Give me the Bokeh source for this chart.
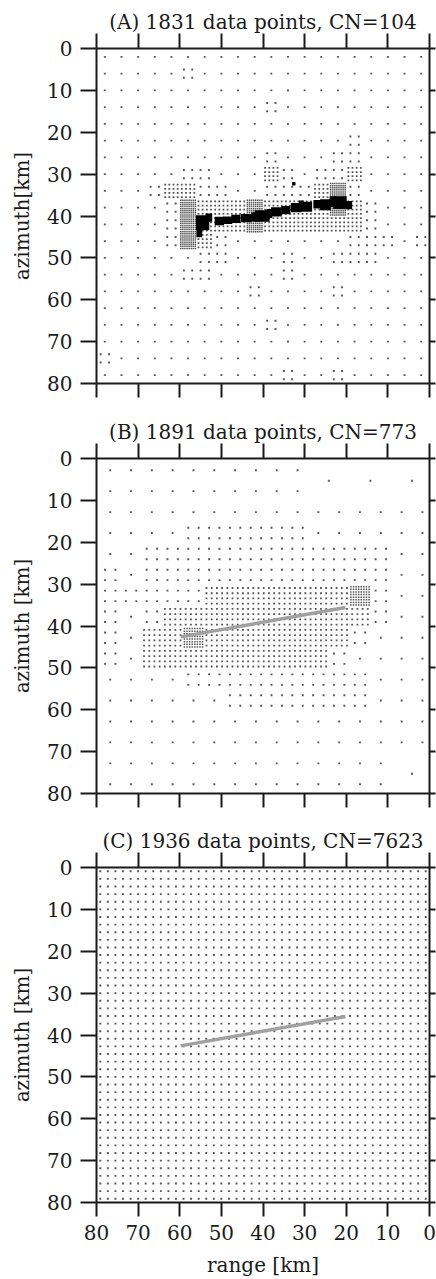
from bokeh.plotting import figure
from bokeh.models import Range1d, LinearAxis, FixedTicker, ColumnDataSource
from bokeh.layouts import column
from bokeh.embed import file_html
from bokeh.resources import INLINE

# ---------------- texts ----------------
titles = ["(A) 1831 data points, CN=104",
          "(B) 1891 data points, CN=773",
          "(C) 1936 data points, CN=7623"]
ylabels = ["azimuth[km]", "azimuth [km]", "azimuth [km]"]
xlabel = "range [km]"
tick_values = [0, 10, 20, 30, 40, 50, 60, 70, 80]

# ---------------- panel A: quadtree levels on a 4 km grid ----------------
# rows: azimuth 0 -> 80 km, columns: range 80 -> 0 km
# 0 = one point, 1 = 2 km cells, 2 = 1 km cells, 3 = 0.5 km cells
A_cell_km = 4.0
A_levels = [
    "00000000000000000000",
    "00000100000000000000",
    "00000000000000000000",
    "00000000001000000000",
    "00000000000000000000",
    "00000000000000010000",
    "00000000001000110000",
    "00000110002101120000",
    "00012211001112310000",
    "00001322232222321000",
    "00001322232222221000",
    "00001321000000011101",
    "00000011000100111000",
    "00000110000100000000",
    "00000000010000100000",
    "00000000000000000000",
    "00000000001000000000",
    "00000000000000000000",
    "10000000000000000000",
    "00000000000100100000",
]
# finest (black) patches along the fault in panel A: centre range, centre azimuth, extents (km)
A_patch_range = [54.5, 55.3, 53.0, 50.5, 48.5, 46.5, 44.0, 40.2, 36.8, 34.5, 32.0,
                 29.5, 27.0, 25.0, 21.5, 19.5, 32.6, 42.0, 38.5, 30.8, 23.2]
A_patch_az = [41.6, 43.9, 40.4, 41.2, 41.0, 40.7, 40.5, 40.0, 39.0, 38.6, 38.0,
              37.8, 37.2, 37.3, 36.8, 37.4, 32.3, 40.2, 39.4, 37.5, 36.6]
A_patch_w = [3.2, 1.4, 1.6, 2.2, 2.2, 2.2, 2.6, 3.6, 2.6, 2.2, 2.6,
             2.6, 1.8, 2.6, 3.2, 1.8, 0.8, 1.6, 1.4, 1.2, 1.6]
A_patch_h = [3.6, 2.4, 2.0, 2.0, 1.8, 2.0, 2.0, 2.8, 2.2, 2.0, 2.2,
             2.4, 2.0, 2.6, 3.0, 2.0, 0.8, 2.2, 2.2, 2.4, 2.6]

# ---------------- panel B: levels on a 5 km grid ('X' = part of a 10 km cell) ----------------
B_cell_km = 5.0
B_shift_range = -0.8
B_shift_az = 0.3
B_levels = [
    "0000000000XXXXXX",
    "0000000000XXXXXX",
    "0000000000000000",
    "0000111111000000",
    "0011111111111100",
    "1011111111111100",
    "1111122222223100",
    "1012222222222100",
    "1022322222221000",
    "1022222222210000",
    "0000111111111000",
    "0000001111111000",
    "0000000000000000",
    "0000000000000000",
    "00000000000000XX",
    "00000000000000XX",
]

# ---------------- panel C: uniform grid ----------------
C_n_range = 44
C_n_az = 44

# ---------------- fault trace (panels B, C) ----------------
fault_range = [59.8, 20.2]
fault_az = [42.6, 35.6]


def quadtree_points(levels, cell, r_shift=0.0, a_shift=0.0):
    xs, ys, lv = [], [], []
    for j, row in enumerate(levels):
        for i, ch in enumerate(row):
            if ch == "X":
                if i % 2 == 0 and j % 2 == 0:
                    xs.append(80 - cell * (i + 1) + r_shift)
                    ys.append(cell * (j + 1) + a_shift)
                    lv.append(0)
                continue
            L = int(ch)
            n = 2 ** L
            s = cell / n
            for a in range(n):
                for b in range(n):
                    xs.append(80 - cell * i - (a + 0.5) * s + r_shift)
                    ys.append(cell * j + (b + 0.5) * s + a_shift)
                    lv.append(L)
    return xs, ys, lv


FONT = "DejaVu Serif"
INK = "#1a1a1a"
DOT = "#555555"
DOT_SIZE = {0: 1.9, 1: 1.9, 2: 1.8, 3: 1.5}


def style_axis(ax, tick_out, labels):
    ax.ticker = FixedTicker(ticks=tick_values, minor_ticks=[])
    ax.axis_line_width = 2
    ax.axis_line_color = INK
    ax.major_tick_line_width = 2
    ax.major_tick_line_color = INK
    ax.major_tick_out = tick_out
    ax.major_tick_in = 0
    ax.minor_tick_out = 0
    ax.minor_tick_in = 0
    if labels:
        ax.major_label_text_font = FONT
        ax.major_label_text_font_size = "20px"
        ax.major_label_text_color = INK
        ax.major_label_standoff = 8
    else:
        ax.major_label_text_font_size = "1px"
        ax.major_label_text_alpha = 0
        ax.major_label_text_color = None
        ax.major_label_standoff = 0


def make_fig(idx, top, bottom, xlabels):
    p = figure(frame_width=333, frame_height=335,
               x_range=Range1d(80, 0), y_range=Range1d(80, 0),
               output_backend="svg", toolbar_location=None,
               min_border_left=96, min_border_right=7,
               min_border_top=top, min_border_bottom=bottom,
               x_axis_location=None, y_axis_location=None,
               title=titles[idx])
    p.title.align = "center"
    p.title.text_font = FONT
    p.title.text_font_size = "20px"
    p.title.text_font_style = "normal"
    p.title.text_color = INK
    p.title.standoff = 0
    p.grid.visible = False
    p.outline_line_color = None
    p.background_fill_color = "white"
    p.border_fill_color = "white"

    left = LinearAxis(axis_label=ylabels[idx])
    style_axis(left, 16, True)
    left.axis_label_text_font = FONT
    left.axis_label_text_font_size = "20px"
    left.axis_label_text_font_style = "normal"
    left.axis_label_text_color = INK
    left.axis_label_standoff = 10
    p.add_layout(left, "left")

    right = LinearAxis()
    style_axis(right, 6, False)
    p.add_layout(right, "right")

    topax = LinearAxis()
    style_axis(topax, 15, False)
    p.add_layout(topax, "above")

    bot = LinearAxis(axis_label=xlabel if xlabels else None)
    style_axis(bot, 14, xlabels)
    if xlabels:
        bot.axis_label_text_font = FONT
        bot.axis_label_text_font_size = "20px"
        bot.axis_label_text_font_style = "normal"
        bot.axis_label_text_color = INK
        bot.axis_label_standoff = 10
    p.add_layout(bot, "below")
    return p


def dots(p, xs, ys, lv):
    src = ColumnDataSource(dict(x=xs, y=ys, s=[DOT_SIZE[l] for l in lv]))
    p.scatter("x", "y", size="s", marker="square", source=src,
              fill_color=DOT, line_color=None)


# ---- panel A ----
pA = make_fig(0, 48, 20, False)
dots(pA, *quadtree_points(A_levels, A_cell_km))
pA.rect(x=A_patch_range, y=A_patch_az, width=A_patch_w, height=A_patch_h,
        fill_color="black", line_color=None)

# ---- panel B ----
pB = make_fig(1, 55, 20, False)
dots(pB, *quadtree_points(B_levels, B_cell_km, B_shift_range, B_shift_az))
pB.line(fault_range, fault_az, line_color="#a0a0a0", line_width=3.5)

# ---- panel C ----
pC = make_fig(2, 54, 77, True)
cr = [80 - (k + 0.5) * 80.0 / C_n_range for k in range(C_n_range)]
ca = [(k + 0.5) * 80.0 / C_n_az for k in range(C_n_az)]
cx_ = [r for r in cr for a in ca]
cy_ = [a for r in cr for a in ca]
dots(pC, cx_, cy_, [0] * len(cx_))
pC.line(fault_range, fault_az, line_color="#a0a0a0", line_width=3.5)

layout = column(pA, pB, pC, spacing=0)
open("out.html", "w").write(file_html(layout, INLINE))
